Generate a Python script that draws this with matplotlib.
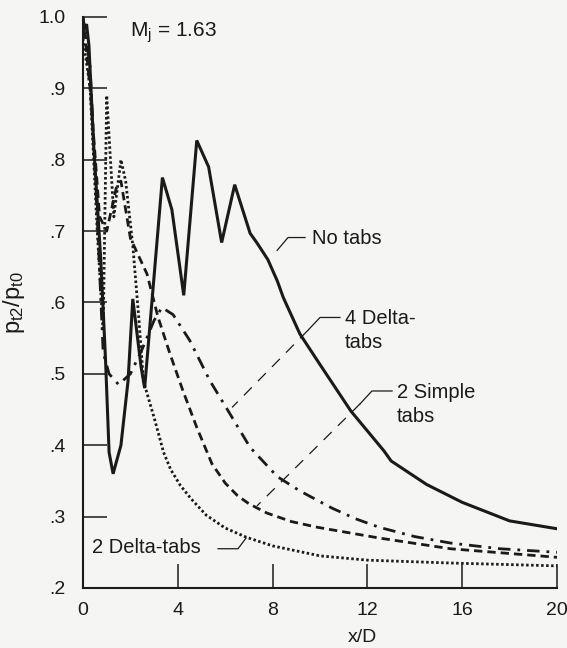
import matplotlib.pyplot as plt

plt.rcParams['font.family'] = ['Liberation Sans', 'DejaVu Sans']
plt.rcParams['mathtext.fontset'] = 'custom'
plt.rcParams['mathtext.rm'] = 'Liberation Sans'
plt.rcParams['mathtext.it'] = 'Liberation Sans'

# Total pressure ratio vs axial distance, Mj = 1.63
no_tabs_x = [0, 0.15, 0.25, 0.45, 0.75, 0.95, 1.1, 1.27, 1.6, 1.9, 2.1, 2.45, 2.6,
             3.35, 3.75, 4.25, 4.8, 5.3, 5.85, 6.4, 7.05, 7.35, 7.8, 8.2, 8.45,
             9.15, 10, 11.3, 12.7, 13, 14.5, 16, 18, 20]
no_tabs_y = [0.98, 0.99, 0.96, 0.82, 0.66, 0.52, 0.39, 0.36, 0.40, 0.49, 0.605, 0.51, 0.48,
             0.775, 0.73, 0.61, 0.827, 0.79, 0.684, 0.765, 0.697, 0.683, 0.66, 0.63, 0.607,
             0.556, 0.513, 0.448, 0.392, 0.378, 0.345, 0.32, 0.294, 0.283]

delta4_x = [0, 0.3, 0.6, 0.85, 1.1, 1.5, 2.0, 2.5, 3.0, 3.33, 3.8, 4.5, 5.36, 6.2,
            7.05, 8.2, 9.15, 10.5, 11.5, 12.5, 14, 15.5, 17.6, 20]
delta4_y = [1.0, 0.93, 0.72, 0.53, 0.50, 0.485, 0.50, 0.535, 0.575, 0.593, 0.583, 0.547,
            0.49, 0.444, 0.397, 0.356, 0.336, 0.312, 0.297, 0.285, 0.272, 0.263, 0.255, 0.25]

simple2_x = [0, 0.3, 0.7, 1.0, 1.4, 1.6, 2.0, 2.7, 3.16, 3.67, 4.22, 4.8, 5.44, 6.0,
             6.5, 7.0, 7.76, 8.8, 9.9, 12.5, 15.5, 20]
simple2_y = [1.0, 0.9, 0.72, 0.70, 0.76, 0.77, 0.69, 0.64, 0.58, 0.528, 0.476, 0.425,
             0.374, 0.347, 0.33, 0.318, 0.305, 0.293, 0.285, 0.27, 0.255, 0.243]

delta2_x = [0, 0.3, 0.6, 0.85, 1.0, 1.3, 1.6, 1.8, 2.1, 2.35, 2.55, 3.04, 3.4, 3.7, 4.1,
            4.56, 5.2, 6.0, 6.9, 8, 10, 12, 15.5, 20]
delta2_y = [0.97, 0.9, 0.7, 0.56, 0.89, 0.72, 0.80, 0.77, 0.68, 0.58, 0.49, 0.434, 0.39,
            0.366, 0.344, 0.325, 0.302, 0.284, 0.271, 0.259, 0.245, 0.239, 0.235, 0.231]

xticks = [0, 4, 8, 12, 16, 20]
yticks = [0.2, 0.3, 0.4, 0.5, 0.6, 0.7, 0.8, 0.9, 1.0]
ytick_labels = ['.2', '.3', '.4', '.5', '.6', '.7', '.8', '.9', '1.0']

ink = '#1a1a1a'
bg = '#f5f5f3'

fig = plt.figure(figsize=(5.67, 6.48), dpi=100, facecolor=bg)
ax = fig.add_axes([0.1464, 0.0926, 0.8360, 0.8812])
ax.set_facecolor(bg)

ax.plot(no_tabs_x, no_tabs_y, color=ink, lw=2.2, solid_joinstyle='miter')
ax.plot(delta4_x, delta4_y, color=ink, lw=2.0, linestyle=(0, (4.5, 2.5, 1, 2.5)))
ax.plot(simple2_x, simple2_y, color=ink, lw=2.0, linestyle=(0, (3, 1.8)))
ax.plot(delta2_x, delta2_y, color=ink, lw=2.0, linestyle=(0, (0.9, 0.9)))

ax.set_xlim(0, 20)
ax.set_ylim(0.2, 1.0)
ax.set_xticks(xticks)
ax.set_yticks(yticks)
ax.set_yticklabels(ytick_labels)
ax.tick_params(direction='in', length=17.5, width=1.1, colors=ink, labelsize=14)
ax.tick_params(axis='x', pad=10)
ax.tick_params(axis='y', pad=12.5)
for s in ['top', 'right']:
    ax.spines[s].set_visible(False)
for s in ['left', 'bottom']:
    ax.spines[s].set_linewidth(1.5)
    ax.spines[s].set_color(ink)
ax.spines['left'].set_zorder(5)

ax.set_xlabel('x/D', fontsize=14, color=ink, va='center')
ax.xaxis.set_label_coords(0.59, -0.086)
ax.set_ylabel('p$_{t2}$/p$_{t0}$', fontsize=17, color=ink, labelpad=8)

ax.text(1.98, 0.978, 'M$_j$ = 1.63', fontsize=15, color=ink, va='center', ha='left')

# curve labels and leader lines
lk = dict(fontsize=14.5, color=ink, ha='left', va='center', linespacing=1.3)
ax.text(9.66, 0.69, 'No tabs', **lk)
ax.text(11.05, 0.561, '4 Delta-\ntabs', **lk)
ax.text(13.25, 0.457, '2 Simple\ntabs', **lk)
ax.text(0.38, 0.257, '2 Delta-tabs', **lk)

ax.plot([8.19, 8.65, 9.37], [0.673, 0.691, 0.691], color=ink, lw=0.9)
ax.plot([9.49, 10.0, 10.84], [0.561, 0.579, 0.579], color=ink, lw=0.9)
ax.plot([9.49, 6.29], [0.561, 0.453], color=ink, lw=0.9, linestyle=(0, (9, 7)))
ax.plot([11.69, 12.19, 13.04], [0.458, 0.476, 0.476], color=ink, lw=0.9)
ax.plot([11.69, 7.34], [0.458, 0.315], color=ink, lw=0.9, linestyle=(0, (9, 7)))
ax.plot([5.70, 6.54, 6.88], [0.255, 0.255, 0.270], color=ink, lw=0.9)

fig.savefig('out.png', dpi=100, facecolor=bg)
